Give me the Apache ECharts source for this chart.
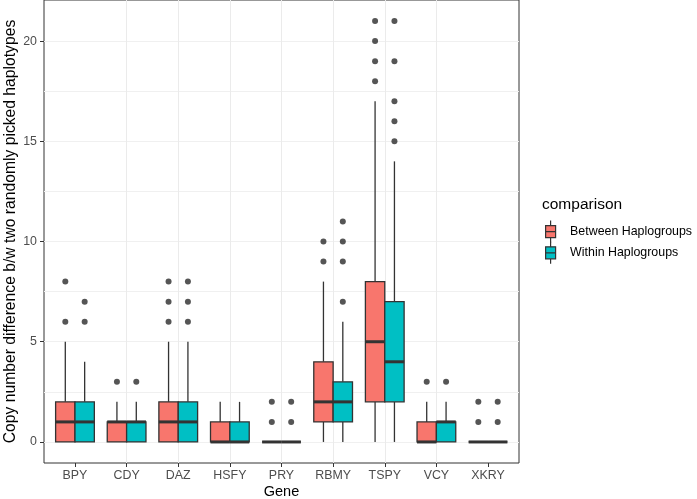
<!DOCTYPE html>
<html>
<head>
<meta charset="utf-8">
<script src="https://cdn.jsdelivr.net/npm/echarts@6/dist/echarts.min.js"></script>
<style>
  html, body { margin: 0; padding: 0; background: #fff; }
  #main { width: 697px; height: 499px; }
</style>
</head>
<body>
<div id="main"></div>
<script>
  var genes = ['BPY', 'CDY', 'DAZ', 'HSFY', 'PRY', 'RBMY', 'TSPY', 'VCY', 'XKRY']
  // [lower whisker, Q1, median, Q3, upper whisker]
  var betweenStats = [
    [0, 0, 1, 2, 5],
    [0, 0, 1, 1, 2],
    [0, 0, 1, 2, 5],
    [0, 0, 0, 1, 2],
    [0, 0, 0, 0, 0],
    [0, 1, 2, 4, 8],
    [0, 2, 5, 8, 17],
    [0, 0, 0, 1, 2],
    [0, 0, 0, 0, 0]
  ]
  var withinStats = [
    [0, 0, 1, 2, 4],
    [0, 0, 1, 1, 2],
    [0, 0, 1, 2, 5],
    [0, 0, 0, 1, 2],
    [0, 0, 0, 0, 0],
    [0, 1, 2, 3, 6],
    [0, 2, 4, 7, 14],
    [0, 0, 1, 1, 2],
    [0, 0, 0, 0, 0]
  ]
  var betweenOutliers = [[6, 8], [3], [6, 7, 8], [], [1, 2], [9, 10], [18, 19, 20, 21], [3], [1, 2]]
  var withinOutliers = [[6, 7], [3], [6, 7, 8], [], [1, 2], [7, 9, 10, 11], [15, 16, 17, 19, 21], [3], [1, 2]]
  var yTicks = [0, 5, 10, 15, 20]

  var RED = '#F8766D'
  var TEAL = '#00BFC4'
  var DARK = '#333333'
  var HALF = 0.1875   // half of one dodged box, in category units
  var FONT = '"Liberation Sans", Arial, sans-serif'

  function boxData (stats, shift) {
    return stats.map(function (s, i) {
      return [i + 1 + shift].concat(s)
    })
  }
  function outlierData (list, shift) {
    var out = []
    list.forEach(function (vals, i) {
      vals.forEach(function (v) { out.push([i + 1 + shift, v]) })
    })
    return out
  }

  function renderBox (params, api) {
    var x = api.value(0)
    var lo = api.value(1), q1 = api.value(2), med = api.value(3), q3 = api.value(4), hi = api.value(5)
    var pTop = api.coord([x - HALF, q3])
    var pBot = api.coord([x + HALF, q1])
    var cHi = api.coord([x, hi])
    var cLo = api.coord([x, lo])
    var cQ3 = api.coord([x, q3])
    var cQ1 = api.coord([x, q1])
    var mL = api.coord([x - HALF, med])
    var mR = api.coord([x + HALF, med])
    var lineStyle = { stroke: DARK, lineWidth: 1.3 }
    var kids = []
    if (hi > q3) kids.push({ type: 'line', shape: { x1: cQ3[0], y1: cQ3[1], x2: cHi[0], y2: cHi[1] }, style: lineStyle })
    if (lo < q1) kids.push({ type: 'line', shape: { x1: cQ1[0], y1: cQ1[1], x2: cLo[0], y2: cLo[1] }, style: lineStyle })
    kids.push({
      type: 'rect',
      shape: { x: pTop[0], y: pTop[1], width: pBot[0] - pTop[0], height: pBot[1] - pTop[1] },
      style: { fill: api.visual('color'), stroke: DARK, lineWidth: 1.3 }
    })
    kids.push({ type: 'line', shape: { x1: mL[0], y1: mL[1], x2: mR[0], y2: mR[1] }, style: { stroke: DARK, lineWidth: 3 } })
    return { type: 'group', children: kids }
  }

  var keyIcon = 'path://M0,5 H10 V17 H0 Z M0,11 H10 M5,0 V5 M5,17 V22'

  var option = {
    animation: false,
    backgroundColor: '#fff',
    textStyle: { fontFamily: FONT },
    title: {
      text: 'comparison',
      left: 542,
      top: 197,
      padding: 0,
      textStyle: { fontFamily: FONT, fontSize: 15.5, fontWeight: 'normal', color: '#000' }
    },
    legend: {
      orient: 'vertical',
      left: 545,
      top: 220,
      itemWidth: 11,
      itemHeight: 22,
      itemGap: -2,
      padding: 0,
      textStyle: { fontFamily: FONT, fontSize: 12.4, color: '#000', padding: [0, 0, 0, 9] },
      data: [
        { name: 'Between Haplogroups', icon: keyIcon, itemStyle: { color: RED, borderColor: DARK, borderWidth: 1.2 } },
        { name: 'Within Haplogroups', icon: keyIcon, itemStyle: { color: TEAL, borderColor: DARK, borderWidth: 1.2 } }
      ]
    },
    grid: {
      left: 44, right: 178, top: 0, bottom: 36,
      outerBoundsMode: 'none',
      containLabel: false,
      show: true, borderColor: DARK, borderWidth: 1, backgroundColor: '#fff'
    },
    xAxis: {
      type: 'value',
      min: 0.4, max: 9.6,
      minInterval: 1, maxInterval: 1, splitNumber: 9,
      name: 'Gene',
      nameLocation: 'middle',
      nameGap: 21,
      nameMoveOverlap: false,
      nameTextStyle: { fontFamily: FONT, fontSize: 14.5, color: '#000' },
      axisLine: { show: false, onZero: false },
      axisTick: { show: true, length: 4, lineStyle: { color: DARK }, customValues: [1, 2, 3, 4, 5, 6, 7, 8, 9] },
      axisLabel: {
        color: '#4D4D4D', fontSize: 12.4, margin: 7,
        customValues: [1, 2, 3, 4, 5, 6, 7, 8, 9],
        formatter: function (v) { return genes[Math.round(v) - 1] || '' }
      },
      splitLine: { show: true, showMinLine: false, showMaxLine: false, lineStyle: { color: '#EBEBEB', width: 1 } }
    },
    yAxis: [
      {
        type: 'value',
        min: -1.05, max: 22.05,
        minInterval: 5, maxInterval: 5,
        name: 'Copy number difference b/w two randomly picked haplotypes',
        nameLocation: 'middle',
        nameGap: 25,
        nameMoveOverlap: false,
        nameTextStyle: { fontFamily: FONT, fontSize: 15.7, color: '#000' },
        axisLine: { show: false, onZero: false },
        axisTick: { show: true, length: 4, lineStyle: { color: DARK }, customValues: yTicks },
        axisLabel: { color: '#4D4D4D', fontSize: 12.4, margin: 7, customValues: yTicks },
        splitLine: { show: true, showMinLine: false, showMaxLine: false, lineStyle: { color: '#EBEBEB', width: 1 } }
      },
      {
        // minor grid only
        type: 'value',
        min: -1.05, max: 22.05,
        minInterval: 2.5, maxInterval: 2.5,
        position: 'left',
        axisLine: { show: false, onZero: false },
        axisTick: { show: false },
        axisLabel: { show: false },
        splitLine: { show: true, showMinLine: false, showMaxLine: false, lineStyle: { color: '#F0F0F0', width: 1 } }
      }
    ],
    series: [
      {
        name: 'Between Haplogroups',
        type: 'custom',
        renderItem: renderBox,
        itemStyle: { color: RED },
        encode: { x: 0, y: [1, 2, 3, 4, 5] },
        data: boxData(betweenStats, -HALF),
        z: 3
      },
      {
        name: 'Within Haplogroups',
        type: 'custom',
        renderItem: renderBox,
        itemStyle: { color: TEAL },
        encode: { x: 0, y: [1, 2, 3, 4, 5] },
        data: boxData(withinStats, HALF),
        z: 3
      },
      {
        name: 'betweenOut',
        type: 'scatter',
        symbolSize: 6,
        itemStyle: { color: '#2b2b2b' },
        data: outlierData(betweenOutliers, -HALF),
        z: 4
      },
      {
        name: 'withinOut',
        type: 'scatter',
        symbolSize: 6,
        itemStyle: { color: '#2b2b2b' },
        data: outlierData(withinOutliers, HALF),
        z: 4
      }
    ]
  }

  var chart = echarts.init(document.getElementById('main'))
  chart.setOption(option)
</script>
</body>
</html>
